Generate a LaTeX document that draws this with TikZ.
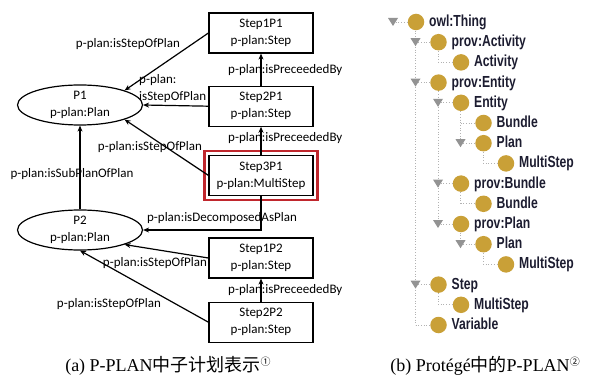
\documentclass[tikz,border=0pt]{standalone}
\usepackage{fontspec}
\setmainfont{Carlito}
\newfontfamily\treefont[FakeStretch=0.76]{Liberation Sans}
\newfontfamily\capfont{Liberation Serif}
\newfontfamily\cjk{Noto Sans CJK SC}
\usepackage{tikz}
\usetikzlibrary{arrows.meta, positioning, shapes.geometric, fit, calc}
\definecolor{owlgold}{RGB}{201,160,55}
\definecolor{treeink}{RGB}{28,28,48}
\definecolor{boxred}{RGB}{192,39,45}
\newcommand{\circnum}[1]{\raisebox{0.7ex}{\fontsize{10}{10}\selectfont\cjk #1}}

\begin{document}
\begin{tikzpicture}[x=1pt, y=-1pt,
  every node/.style={font=\fontsize{13}{17}\selectfont},
  stepbox/.style={draw, line width=1.2pt, minimum width=104pt, minimum height=40pt, align=center, inner sep=0pt},
  plannode/.style={draw, ellipse, line width=1.2pt, minimum width=125pt, minimum height=40pt, align=center, inner sep=0pt},
  rel/.style={line width=1.2pt, -{Stealth[length=6pt,width=5pt]}},
  lbl/.style={inner sep=0pt},
  owlball/.style={circle, fill=owlgold, minimum size=16.5pt, inner sep=0pt},
  treelbl/.style={inner sep=0pt, text height=12pt, text depth=3pt, text=treeink, font=\treefont\bfseries\fontsize{16}{18}\selectfont},
  guide/.style={gray!60, dotted, line width=0.7pt},
  capstyle/.style={inner sep=0pt, font=\capfont\fontsize{18}{20}\selectfont}]
  \useasboundingbox (0,0) rectangle (601,379);

  % (a) plans and steps
  \node[plannode] (p1) at (80,105) {P1\\p-plan:Plan};
  \node[plannode] (p2) at (80,230) {P2\\p-plan:Plan};
  \node[stepbox] (s1p1) at (261,33) {Step1P1\\p-plan:Step};
  \node[stepbox, below=32pt of s1p1] (s2p1) {Step2P1\\p-plan:Step};
  \node[stepbox, below=28pt of s2p1] (s3p1) {Step3P1\\p-plan:MultiStep};
  \node[draw=boxred, line width=2.5pt, fit=(s3p1), inner sep=4pt] (hl) {};
  \node[stepbox] (s1p2) at (261,258) {Step1P2\\p-plan:Step};
  \node[stepbox, below=23pt of s1p2] (s2p2) {Step2P2\\p-plan:Step};

  % Edges
  \draw[rel] (s1p1.west) -- (p1.north east);
  \draw[rel] (s2p1.west) -- (p1.east);
  \draw[rel] (s3p1.west) -- (p1.south east);
  \draw[rel] (p2.north) -- (p1.south);
  \draw[rel] (s3p1.south) |- (p2.east);
  \draw[rel] (s1p2.west) -- (p2.south east);
  \draw[rel] (s2p2.west) -- (p2.south);
  \draw[rel] (s2p1.north) -- (s1p1.south);
  \draw[rel] (s3p1.north) -- (s2p1.south);
  \draw[rel] (s2p2.north) -- (s1p2.south);

  % Edge labels
  \node[lbl] (l1) at (128,44) {p-plan:isStepOfPlan};
  \node[lbl, align=left, anchor=west] (l2) at (139,89) {p-plan:\\isStepOfPlan};
  \node[lbl] (l3) at (150,147) {p-plan:isStepOfPlan};
  \node[lbl, anchor=west] (l4) at (228,70) {p-plan:isPreceededBy};
  \node[lbl, anchor=west] (l5) at (228,138) {p-plan:isPreceededBy};
  \node[lbl] (l6) at (72,174) {p-plan:isSubPlanOfPlan};
  \node[lbl] (l7) at (222,218) {p-plan:isDecomposedAsPlan};
  \node[lbl] (l8) at (155,263) {p-plan:isStepOfPlan};
  \node[lbl] (l9) at (109,304) {p-plan:isStepOfPlan};
  \node[lbl, anchor=west] (l10) at (228,290) {p-plan:isPreceededBy};

  % (b) class tree: parent row / last child row / child level
  \foreach \p/\c/\lv in {0/15/1, 1/2/2, 3/10/2, 4/6/3, 6/7/4, 8/9/3, 10/11/3, 11/12/4, 13/14/2} {
    \draw[guide] ({393+22.5*\lv},{22+20.2*\p+6}) -- ({393+22.5*\lv},{22+20.2*\c});
  }
  \foreach \i/\lv/\nm/\ex in {0/0/owl:Thing/1, 1/1/prov:Activity/1, 2/2/Activity/0,
      3/1/prov:Entity/1, 4/2/Entity/1, 5/3/Bundle/0, 6/3/Plan/1, 7/4/MultiStep/0,
      8/2/prov:Bundle/1, 9/3/Bundle/0, 10/2/prov:Plan/1, 11/3/Plan/1, 12/4/MultiStep/0,
      13/1/Step/1, 14/2/MultiStep/0, 15/1/Variable/0} {
    \pgfmathsetmacro\cx{416+22.5*\lv}
    \pgfmathsetmacro\cy{22+20.2*\i}
    \coordinate (g\i) at (\cx-23,\cy);
    \node[owlball] (t\i) at (\cx,\cy) {};
    \draw[guide] (g\i) -- (t\i);
    \ifnum\ex=1
      \fill[gray!85] ($(g\i)+(-5,-4)$) -- ++(10,0) -- ++(-5,8) -- cycle;
    \fi
    \node[treelbl, right=4.5pt of t\i] (tl\i) {\nm};
  }

  % Captions
  \node[capstyle] (capa) at (168,366) {(a) P-PLAN{\cjk 中子计划表示}\circnum{①}};
  \node[capstyle] (capb) at (485,366) {(b) Protégé{\cjk 中的}P-PLAN\circnum{②}};
\end{tikzpicture}
\end{document}
